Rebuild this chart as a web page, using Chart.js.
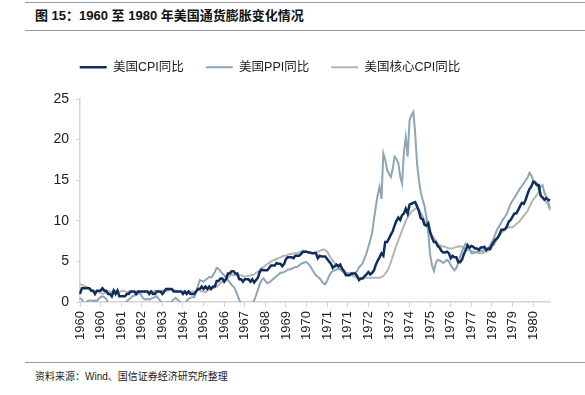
<!DOCTYPE html>
<html><head><meta charset="utf-8">
<script src="https://cdn.jsdelivr.net/npm/chart.js@4/dist/chart.umd.min.js"></script>
<style>
html,body{margin:0;padding:0;background:#fff;width:585px;height:395px;overflow:hidden;position:relative;font-family:"Liberation Sans","Noto Sans CJK SC",sans-serif;}
.rule{position:absolute;left:25px;right:0;height:0;border-top:1px solid #9a9a9a;}
#title{position:absolute;left:35px;top:8px;font-size:13px;font-weight:bold;color:#111;line-height:16px;white-space:nowrap;}
#src{position:absolute;left:35px;top:370px;font-size:10px;color:#222;line-height:13px;white-space:nowrap;}
#wrap{position:absolute;left:-10px;top:20px;width:565px;height:340px;}
</style></head>
<body>
<div class="rule" style="top:2px"></div>
<div id="title">图 15：1960 至 1980 年美国通货膨胀变化情况</div>
<div class="rule" style="top:30px"></div>
<div id="wrap"><canvas id="c"></canvas></div>
<div class="rule" style="top:362px"></div>
<div id="src">资料来源：Wind、国信证券经济研究所整理</div>
<script>
// ---- data (monthly, Jan 1960 – Dec 1980, YoY %) ----
const startYear = 1960;
const endYear = 1980;
const seriesNames = ['美国CPI同比', '美国PPI同比', '美国核心CPI同比'];
const tickLabels = ['1960','1960','1961','1962','1963','1964','1965','1966','1967','1968','1969','1970','1971','1971','1972','1973','1974','1975','1976','1977','1978','1979','1980'];
const tickEvery = 11;
const yTicks = [0, 5, 10, 15, 20, 25];

const cpi = [
1.0,1.7,1.7,1.7,1.7,1.7,1.4,1.4,1.0,1.4,1.4,1.4,
1.7,1.4,1.4,1.0,1.0,0.7,1.4,1.0,1.4,0.7,0.7,0.7,
0.7,1.0,1.0,1.3,1.3,1.3,1.0,1.3,1.3,1.3,1.3,1.3,
1.3,1.0,1.3,1.0,1.0,1.3,1.3,1.3,1.0,1.3,1.6,1.6,
1.6,1.6,1.3,1.3,1.3,1.3,1.3,1.0,1.3,1.0,1.3,1.0,
1.0,1.0,1.3,1.6,1.6,1.9,1.6,1.9,1.6,1.9,1.6,1.9,
1.9,2.6,2.6,2.9,2.9,2.5,2.8,3.5,3.5,3.8,3.8,3.5,
3.5,2.8,2.8,2.5,2.8,2.8,2.8,2.5,2.8,2.4,2.7,3.0,
3.7,4.0,3.9,3.9,3.9,4.2,4.5,4.5,4.5,4.8,4.7,4.7,
4.4,4.7,5.3,5.5,5.5,5.5,5.4,5.7,5.7,5.7,5.9,6.2,
6.2,6.2,6.1,6.1,6.0,6.0,6.0,5.4,5.7,5.6,5.6,5.6,
5.3,5.0,4.7,4.2,4.4,4.6,4.4,4.6,4.1,3.8,3.3,3.3,
3.3,3.5,3.5,3.5,3.2,2.7,2.9,2.9,3.2,3.4,3.7,3.4,
3.6,3.9,4.6,5.1,5.5,6.0,5.7,7.4,7.4,7.8,8.3,8.7,
9.4,10.0,10.4,10.1,10.7,10.9,11.5,10.9,12.0,12.1,12.2,12.3,
11.8,11.2,10.3,10.2,9.5,9.4,9.7,8.6,7.9,7.4,7.4,6.9,
6.7,6.3,6.1,6.1,6.2,6.0,5.4,5.7,5.5,5.5,4.9,4.9,
5.2,5.9,6.4,7.0,6.7,6.9,6.8,6.6,6.6,6.4,6.7,6.7,
6.8,6.4,6.6,6.5,7.0,7.4,7.7,7.9,8.3,8.9,8.9,9.0,
9.3,9.9,10.1,10.5,10.9,10.9,11.3,11.8,12.2,12.1,12.6,13.3,
13.9,14.2,14.8,14.7,14.4,14.4,13.1,12.9,12.6,12.8,12.6,12.5
];

const ppi = [
0.5,0.3,-0.1,-0.2,0.1,0.2,0.2,0.1,0.2,0.1,0.4,0.6,
0.7,0.6,0.4,-0.2,-0.6,-0.7,-0.6,-0.5,-0.6,-0.4,-0.3,-0.2,
-0.1,0.1,0.3,0.5,0.7,0.8,0.9,1.0,1.1,0.7,0.4,0.3,
0.4,0.3,0.4,0.5,0.6,0.7,0.4,0.1,-0.2,-0.3,-0.1,0.0,
-0.2,0.1,0.3,0.5,0.3,0.1,-0.1,-0.3,-0.2,0.1,0.4,0.5,
0.6,0.6,1.2,2.0,2.7,2.6,2.5,2.7,2.9,3.1,3.0,3.3,
3.7,4.2,4.1,3.8,3.5,3.3,3.0,2.7,2.4,2.1,1.9,1.5,
0.9,0.3,-0.2,-0.6,-0.8,-1.0,-0.8,-0.5,-0.2,0.2,0.8,1.5,
2.2,2.7,2.9,2.6,2.3,2.4,2.6,2.8,3.0,3.2,3.4,3.6,
3.6,3.7,3.8,4.0,4.0,4.1,4.2,4.3,4.3,4.5,4.7,4.8,
4.9,4.9,4.7,4.4,4.0,3.6,3.3,3.1,2.9,2.6,2.3,2.2,
2.6,3.2,3.6,3.8,3.9,4.0,4.1,4.0,3.8,3.6,3.5,3.6,
3.5,3.5,3.6,3.6,3.8,4.3,4.5,4.8,5.4,6.0,6.8,7.6,
8.5,10.2,11.8,13.2,14.2,12.7,18.3,17.5,16.3,15.8,15.4,16.4,
17.9,17.6,17.1,15.5,14.6,18.5,20.3,17.9,22.4,23.0,23.4,20.8,
17.0,15.0,13.5,12.6,11.8,10.5,8.5,5.8,4.5,3.8,4.8,5.2,
5.1,5.0,4.8,5.0,5.2,5.0,4.5,4.2,3.9,4.2,4.8,5.6,
6.2,6.8,7.2,7.0,6.5,6.0,6.0,6.1,6.2,6.2,6.3,6.3,
6.4,6.4,6.6,7.0,7.4,7.9,8.5,9.0,9.4,9.8,10.2,10.5,
10.9,11.5,12.1,12.5,12.8,13.2,13.6,14.0,14.3,14.6,15.0,15.3,
15.9,15.6,15.0,14.8,14.6,13.8,14.2,14.4,13.5,12.9,12.3,11.6
];

const coreCpi = [
2.2,2.1,2.0,1.9,1.8,1.6,1.5,1.4,1.3,1.3,1.2,1.1,
1.0,1.1,1.2,1.3,1.3,1.2,1.3,1.4,1.3,1.2,1.3,1.4,
1.3,1.2,1.3,1.3,1.2,1.3,1.2,1.3,1.3,1.2,1.2,1.3,
1.2,1.3,1.2,1.3,1.4,1.3,1.3,1.2,1.4,1.5,1.4,1.4,
1.5,1.6,1.5,1.4,1.3,1.3,1.2,1.3,1.2,1.2,1.2,1.2,
1.3,1.2,1.3,1.5,1.4,1.3,1.3,1.2,1.4,1.5,1.6,1.7,
1.8,1.9,2.1,2.3,2.5,2.7,2.9,3.0,3.2,3.4,3.3,3.3,
3.4,3.3,3.3,3.2,3.1,3.2,3.2,3.3,3.3,3.4,3.6,3.7,
3.9,4.2,4.3,4.5,4.7,4.8,5.0,5.1,5.2,5.3,5.4,5.5,
5.6,5.7,5.7,5.8,5.9,5.9,6.0,6.0,6.0,6.1,6.2,6.3,
6.3,6.2,6.1,6.0,6.0,6.1,6.2,6.2,6.3,6.4,6.5,6.4,
6.2,5.8,5.4,5.1,4.8,4.6,4.3,4.1,3.9,3.7,3.6,3.5,
3.4,3.3,3.2,3.1,3.0,3.0,2.9,3.0,3.0,3.0,3.0,3.0,
3.0,3.0,3.0,3.0,3.0,3.1,3.2,3.5,3.8,4.3,4.9,5.6,
6.3,7.0,7.6,8.2,8.8,9.4,10.0,10.5,10.8,11.1,11.3,11.5,
11.6,11.4,11.0,10.6,10.0,9.6,9.0,8.6,8.2,7.9,7.5,7.2,
7.0,6.9,6.8,6.8,6.7,6.6,6.6,6.6,6.7,6.8,6.8,6.9,
6.8,6.6,6.5,6.4,6.4,6.3,6.2,6.2,6.1,6.0,6.0,6.0,
6.1,6.2,6.3,6.6,6.9,7.0,7.4,7.9,8.2,8.5,8.7,8.9,
9.1,9.2,9.2,9.2,9.4,9.6,9.8,10.0,10.3,10.6,10.9,11.2,
11.7,12.2,12.6,12.9,13.2,13.5,13.3,12.8,12.6,12.3,12.0,11.3
];

// monthly category labels
const months = [];
for (let y = startYear; y <= endYear; y++) {
  for (let m = 1; m <= 12; m++) months.push(y + '-' + String(m).padStart(2, '0'));
}

const FONT = "'Liberation Sans','Noto Sans CJK SC',sans-serif";
const axisColor = '#d4d4d4';

const legendFit = {
  id: 'legendFit',
  beforeInit(chart) {
    const orig = chart.legend.fit;
    chart.legend.fit = function () { orig.call(this); this.height = 60; };
  }
};

new Chart(document.getElementById('c'), {
  type: 'line',
  data: {
    labels: months,
    datasets: [
      { label: seriesNames[0], data: cpi, borderColor: '#0e2f5e', backgroundColor: '#0e2f5e', borderWidth: 2.5 },
      { label: seriesNames[1], data: ppi, borderColor: '#8ea4b7', backgroundColor: '#8ea4b7', borderWidth: 2 },
      { label: seriesNames[2], data: coreCpi, borderColor: '#b5b5b5', backgroundColor: '#b5b5b5', borderWidth: 2 }
    ]
  },
  options: {
    responsive: true,
    maintainAspectRatio: false,
    devicePixelRatio: 1,
    animation: false,
    layout: { padding: { top: 19, left: 0, right: 5, bottom: 0 } },
    elements: { point: { radius: 0 }, line: { tension: 0 } },
    plugins: {
      tooltip: { enabled: false },
      legend: {
        position: 'top',
        align: 'center',
        labels: {
          boxWidth: 27, boxHeight: 0, padding: 22,
          color: '#222',
          font: { family: FONT, size: 12.5 }
        }
      }
    },
    scales: {
      x: {
        type: 'category',
        offset: false,
        border: { display: true, color: axisColor, width: 1.5 },
        grid: { display: true, drawOnChartArea: false, drawTicks: true, tickLength: 5, color: axisColor, lineWidth: 1 },
        ticks: {
          autoSkip: false, minRotation: 90, maxRotation: 90, padding: 4,
          color: '#222', font: { family: FONT, size: 13 },
          callback: (v, i) => (i % tickEvery === 0 && tickLabels[i / tickEvery] !== undefined) ? tickLabels[i / tickEvery] : null
        },
        afterFit: (s) => { s.height = 58; }
      },
      y: {
        min: yTicks[0], max: yTicks[yTicks.length - 1],
        border: { display: true, color: axisColor, width: 1.5 },
        grid: { display: true, drawOnChartArea: false, drawTicks: true, tickLength: 4, color: axisColor },
        ticks: { stepSize: 5, padding: 7, color: '#222', font: { family: FONT, size: 14 } },
        afterFit: (s) => { s.width = 90; }
      }
    }
  },
  plugins: [legendFit]
});
</script>
</body></html>
